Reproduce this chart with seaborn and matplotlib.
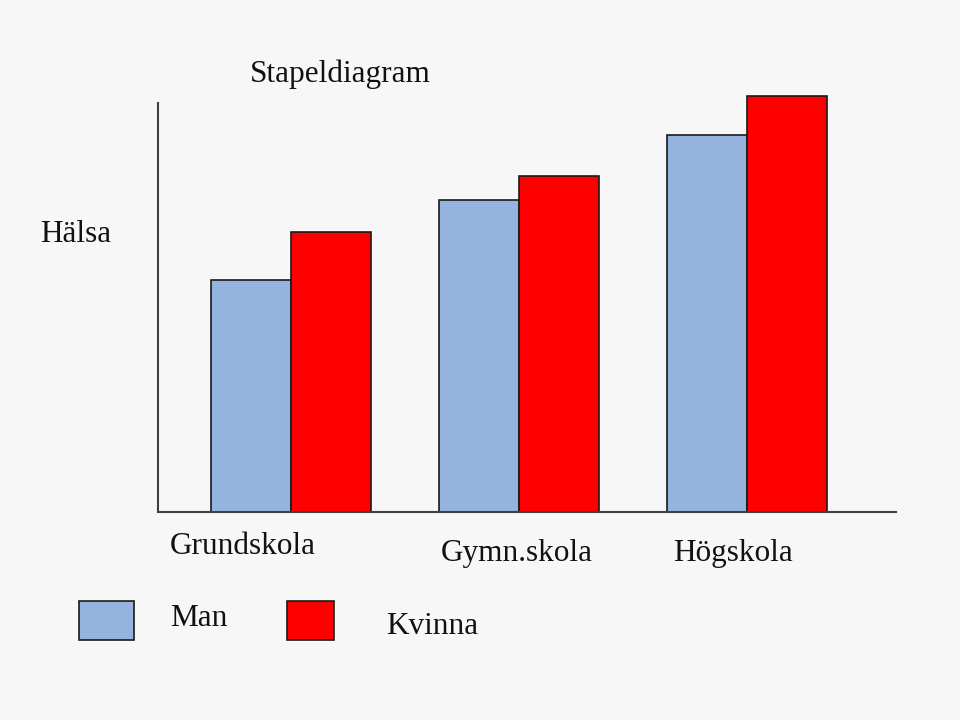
import matplotlib
matplotlib.use("Agg")
import matplotlib.pyplot as plt
from matplotlib.patches import Rectangle
import seaborn as sns
import pandas as pd

categories = ["Grundskola", "Gymn.skola", "Högskola"]
series_names = ["Man", "Kvinna"]
man_values = [232, 312, 377]
kvinna_values = [280, 336, 416]
colors = {"Man": "#95B3DF", "Kvinna": "#FF0000"}
title = "Stapeldiagram"
ylabel = "Hälsa"

df = pd.DataFrame({
    "Utbildning": categories * 2,
    "Kön": ["Man"] * 3 + ["Kvinna"] * 3,
    "Hälsa": man_values + kvinna_values,
})

sns.set_theme(style="white")
plt.rcParams["font.family"] = ["Liberation Serif", "DejaVu Serif"]
bg = "#F7F7F7"
W, H = 960, 720
fig = plt.figure(figsize=(9.6, 7.2), dpi=100, facecolor=bg)

# axes in pixel terms
left, right, top, bottom = 158, 896, 90, 512
ax = fig.add_axes([left / W, (H - bottom) / H, (right - left) / W, (bottom - top) / H])
ax.set_facecolor(bg)

sns.barplot(data=df, x="Utbildning", y="Hälsa", hue="Kön", hue_order=series_names,
            palette=colors, width=0.7, edgecolor="#1a1a1a", linewidth=1.2,
            legend=False, ax=ax, saturation=1)

ax.set_ylim(0, (bottom - top))
ax.set_xlim(-0.583, 2.654)
for s in ["top", "right"]:
    ax.spines[s].set_visible(False)
for s in ["left", "bottom"]:
    ax.spines[s].set_color("#404040")
    ax.spines[s].set_linewidth(1.5)
ax.spines["left"].set_bounds(0, bottom - 103)
ax.set_xticks([])
ax.set_yticks([])
ax.set_xlabel("")
ax.set_ylabel("")

fs = 22.5
fig.text(340 / W, 1 - 74 / H, title, ha="center", va="center", fontsize=fs, color="#111111")
fig.text(40 / W, 1 - 235 / H, ylabel, ha="left", va="center", fontsize=fs, color="#111111")

label_pos = [(170, 546), (441, 554), (673, 554)]
for lab, (x, y) in zip(categories, label_pos):
    fig.text(x / W, 1 - y / H, lab, ha="left", va="center", fontsize=fs, color="#111111")

# legend
leg = [("Man", (79, 601, 134, 640), (170, 618)),
       ("Kvinna", (287, 601, 334, 640), (386, 627))]
for name, (x0, y0, x1, y1), (tx, ty) in leg:
    fig.patches.append(Rectangle((x0 / W, 1 - y1 / H), (x1 - x0) / W, (y1 - y0) / H,
                                 transform=fig.transFigure, facecolor=colors[name],
                                 edgecolor="#1a1a1a", linewidth=1.2))
    fig.text(tx / W, 1 - ty / H, name, ha="left", va="center", fontsize=fs, color="#111111")

fig.savefig("out.png", dpi=100, facecolor=bg)
